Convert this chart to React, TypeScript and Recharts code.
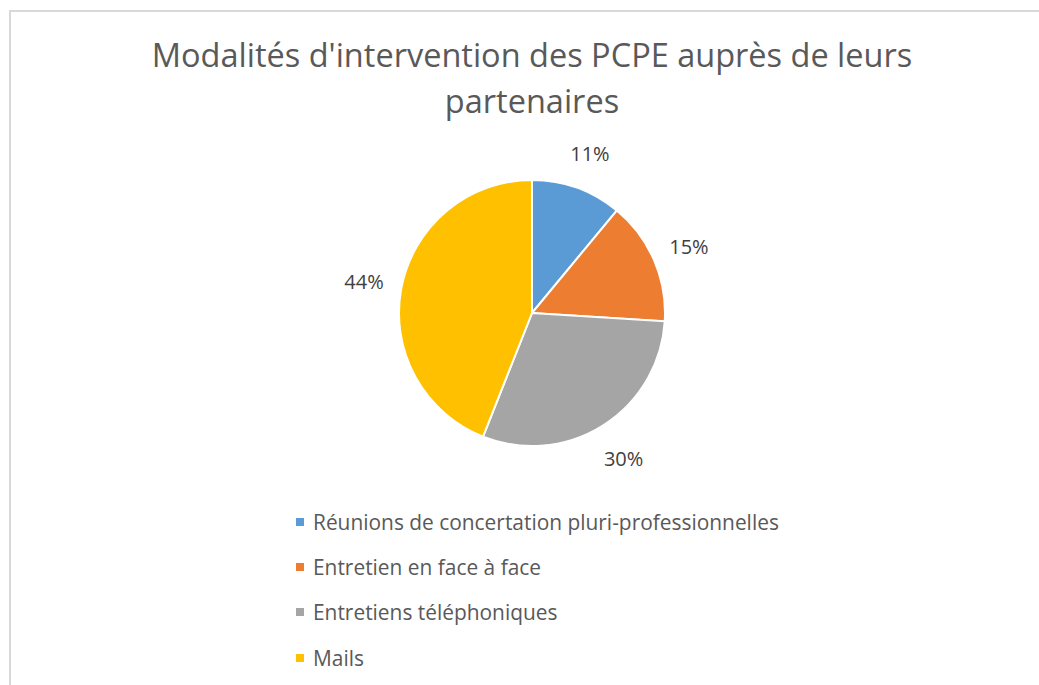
import React from "react";
import { PieChart, Pie, Cell, Legend } from "recharts";

const categories = [
  "Réunions de concertation pluri-professionnelles",
  "Entretien en face à face",
  "Entretiens téléphoniques",
  "Mails",
];
const values = [11, 15, 30, 44];
const colors = ["#5B9BD5", "#ED7D31", "#A5A5A5", "#FFC000"];
const title = ["Modalités d'intervention des PCPE auprès de leurs", "partenaires"];

const data = categories.map((name, i) => ({ name, value: values[i] }));

const FONT = "'Open Sans', 'Liberation Sans', sans-serif";
const RAD = Math.PI / 180;

const renderLabel = (props: any) => {
  const { cx, cy, midAngle, outerRadius, value } = props;
  const r = outerRadius + 38;
  const x = cx + r * Math.cos(-midAngle * RAD);
  const y = cy + r * Math.sin(-midAngle * RAD);
  return (
    <text
      x={x}
      y={y + 1}
      fill="#404040"
      fontSize={20}
      fontFamily={FONT}
      textAnchor="middle"
      dominantBaseline="central"
    >
      {value}%
    </text>
  );
};

const renderLegend = () => {
  return (
    <div style={{ fontFamily: FONT }}>
      {categories.map((name, i) => (
        <div
          key={name}
          style={{
            display: "flex",
            alignItems: "center",
            height: 45.3,
            color: "#595959",
            fontSize: 20.9,
            whiteSpace: "nowrap",
          }}
        >
          <span
            style={{
              display: "inline-block",
              width: 8,
              height: 8,
              background: colors[i],
              marginRight: 9,
            }}
          />
          {name}
        </div>
      ))}
    </div>
  );
};

export default function App() {
  return (
    <div
      style={{
        position: "absolute",
        left: 0,
        top: 0,
        width: 1039,
        height: 685,
        overflow: "hidden",
        background: "#fff",
      }}
    >
      <div
        style={{
          position: "absolute",
          left: 9,
          top: 10,
          width: 1060,
          height: 700,
          border: "2px solid #D9D9D9",
          boxSizing: "border-box",
        }}
      />
      <div
        style={{
          position: "absolute",
          left: 0,
          top: 32,
          width: 1064,
          textAlign: "center",
          fontFamily: FONT,
          fontSize: 32.5,
          lineHeight: "46px",
          color: "#595959",
        }}
      >
        {title[0]}
        <br />
        {title[1]}
      </div>
      <div style={{ position: "absolute", left: 0, top: 0 }}>
        <PieChart width={1039} height={685}>
          <Pie
            data={data}
            dataKey="value"
            nameKey="name"
            cx={527}
            cy={308}
            outerRadius={133}
            startAngle={90}
            endAngle={-270}
            stroke="#fff"
            strokeWidth={2}
            label={renderLabel}
            labelLine={false}
            isAnimationActive={false}
          >
            {data.map((d, i) => (
              <Cell key={d.name} fill={colors[i]} />
            ))}
          </Pie>
          <Legend
            layout="vertical"
            content={renderLegend}
            wrapperStyle={{ position: "absolute", left: 296, top: 499, width: 600 }}
          />
        </PieChart>
      </div>
    </div>
  );
}
